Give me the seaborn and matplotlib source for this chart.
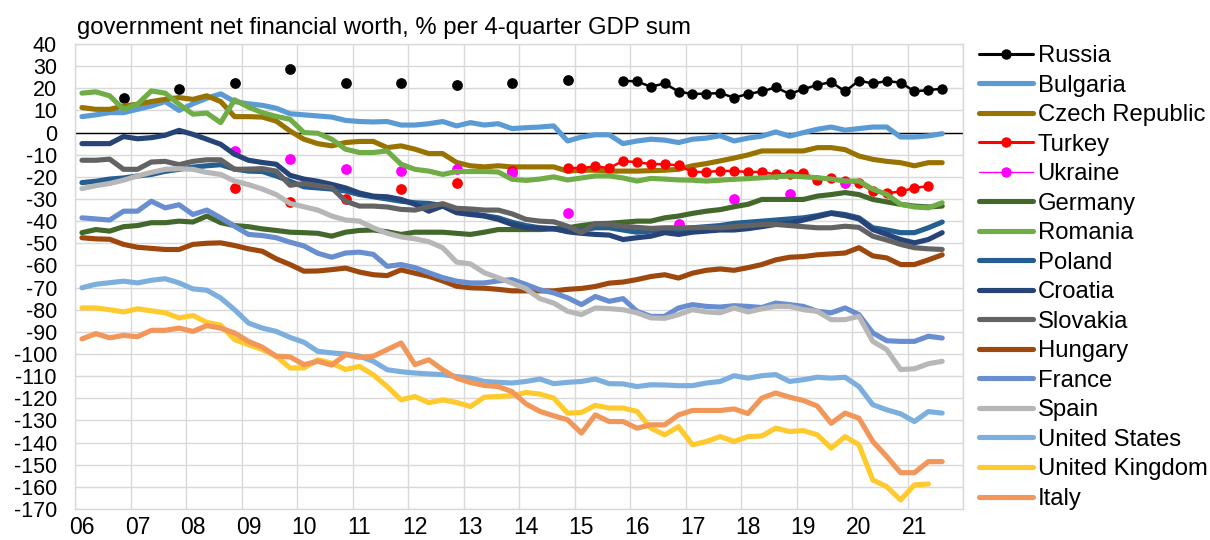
import numpy as np
import pandas as pd
import matplotlib
matplotlib.use("Agg")
import matplotlib.pyplot as plt
from matplotlib.lines import Line2D
import seaborn as sns

# quarterly axis 2006Q1 .. 2021Q3
quarters = pd.period_range("2006Q1", "2021Q3", freq="Q")
year_labels = ["06", "07", "08", "09", "10", "11", "12", "13", "14", "15",
               "16", "17", "18", "19", "20", "21"]

# annual (Q4) observations
russia_annual_q = ["2006Q4", "2007Q4", "2008Q4", "2009Q4", "2010Q4", "2011Q4",
                   "2012Q4", "2013Q4", "2014Q4"]
russia_annual = [15.4, 19.5, 22.6, 28.5, 22.2, 22.2, 21.4, 22.2, 23.7]
russia_q_start = "2015Q4"
russia_quarterly = [23.4, 23.1, 20.7, 22.2, 18.5, 17.4, 17.6, 17.8, 15.8, 17.4,
                    18.6, 20.4, 17.5, 19.6, 21.5, 22.8, 18.6, 23.4, 22.2, 23.2,
                    22.6, 18.6, 19.2, 19.8]

turkey_annual_q = ["2008Q4", "2009Q4", "2010Q4", "2011Q4", "2012Q4", "2013Q4"]
turkey_annual = [-25.2, -31.5, -30.2, -25.6, -23.0, -17.4]
turkey_q_start = "2014Q4"
turkey_quarterly = [-16.0, -16.0, -15.3, -16.0, -12.8, -13.4, -14.2, -14.3, -14.8, -17.8,
                    -17.8, -17.3, -17.4, -17.8, -17.8, -18.9, -18.5, -18.2, -21.2, -20.4,
                    -21.9, -22.9, -26.4, -27.4, -26.6, -25.0, -24.2]

ukraine_annual_q = ["2008Q4", "2009Q4", "2010Q4", "2011Q4", "2012Q4", "2013Q4",
                    "2014Q4", "2016Q4", "2017Q4", "2018Q4", "2019Q4"]
ukraine_annual = [-8.3, -12.1, -16.6, -17.4, -16.3, -18.1, -36.2, -41.5, -30.2, -27.8, -22.6]

bulgaria = [7.2, 8, 9, 9, 10.5, 12, 14, 10, 13, 15.5,
            17.5, 14, 13, 12.3, 11, 8.5, 8, 7.5, 7, 5.5,
            5, 4.8, 5, 3.4, 3.4, 4, 5, 3, 4.5, 3.4,
            4, 1.8, 2.2, 2.5, 3, -3.8, -2, -1, -1, -5,
            -3.8, -3, -3.4, -4.5, -3, -2.5, -1.4, -3.8, -2.5, -1.6,
            0.3, -1.6, 0, 1.5, 2.5, 1.1, 1.8, 2.5, 2.5, -2,
            -2, -1.5, -0.5]
czech = [11.3, 10.5, 10.5, 12, 12.8, 14, 15, 15.8, 15, 16.6,
         14, 7.2, 7.2, 7, 5.2, 0.7, -3, -5, -6, -4.5,
         -4, -4, -6.8, -6, -7.5, -9.5, -9.5, -13.5, -15, -15.5,
         -15, -15.5, -15.5, -15.5, -15.5, -17.4, -17, -17, -17.4, -17.4,
         -17.4, -17.2, -17, -16.6, -15, -14, -12.8, -11.5, -10.1, -8.3,
         -8.3, -8.3, -8.3, -6.8, -6.8, -7.7, -10.6, -12.1, -13, -13.6,
         -15, -13.6, -13.6]
germany = [-45.2, -43.8, -44.5, -42.5, -42, -40.7, -40.7, -40, -40.4, -37.7,
           -40.7, -42, -42.5, -43.5, -44.2, -45, -45.2, -45.5, -46.8, -45,
           -44.2, -44, -44.8, -46, -45, -45, -45, -45.5, -46, -45,
           -43.8, -43.8, -43.8, -43.8, -43.5, -43, -42, -41.2, -41, -40.5,
           -40, -40, -38.5, -37.7, -36.5, -35.5, -34.8, -33.5, -32.4, -30.2,
           -30.2, -30.2, -30.2, -28.7, -28, -27.1, -28, -30.2, -31.3, -32.4,
           -33.2, -33.6, -33.2]
romania = [17.8, 18.4, 16.6, 10.5, 12.8, 18.8, 17.8, 12.8, 8.3, 8.8,
           4.5, 14.8, 11.5, 9, 7.3, 6, 0, -0.3, -3, -7.5,
           -9, -9, -8.3, -14.3, -16.6, -17.4, -18.9, -17.6, -17.6, -17.6,
           -17.8, -21.1, -21.6, -21, -20, -21.4, -20.5, -19.6, -19.6, -20.5,
           -21.9, -20.7, -21, -21.4, -21.5, -21.9, -21.5, -21.1, -20.8, -20.4,
           -20, -19.6, -20, -20.4, -21, -21.9, -21.9, -25.6, -27.9, -32.4,
           -33.6, -34, -31.7]
poland = [-22.6, -22, -21, -20.5, -19.6, -18.9, -17.5, -16.6, -15.6, -15,
          -14.5, -16.5, -17.4, -17.6, -19.6, -22, -24.5, -25, -25.5, -26.4,
          -28, -29, -30, -31, -31.7, -32, -33, -35.5, -36.5, -37.5,
          -38.5, -40.5, -42, -43, -43.5, -44.5, -44, -43, -43, -44,
          -45, -44.5, -44, -44, -43, -42.5, -42, -41, -40.5, -40,
          -39.5, -39, -38.5, -37.5, -36.2, -37, -38.5, -43, -44, -45.2,
          -45.2, -43, -40.4]
croatia = [-5, -5, -5, -1.8, -2.8, -2.3, -1.2, 1, -0.8, -3,
           -5.3, -9.8, -12.5, -13.5, -14.3, -19.3, -21, -22, -23.4, -25,
           -27.3, -28.7, -29, -30.2, -32.4, -35.5, -33.2, -36.2, -37, -37.7,
           -39.2, -41.5, -43, -43.2, -43.3, -44.8, -45.5, -46, -46.3, -48.3,
           -47.5, -46.8, -45.2, -46, -45, -44.5, -44, -44, -43.4, -42.5,
           -41.5, -41, -39.5, -38, -36.5, -37.5, -39, -43.8, -46, -48.3,
           -49.8, -48.3, -45.2]
slovakia = [-12.5, -12.5, -12, -16.6, -16.6, -13.3, -13, -14.5, -13, -12.3,
            -12.3, -16.6, -16.5, -16.3, -17.4, -23.8, -23, -24, -24.9, -31,
            -33.2, -33.2, -33.6, -34.7, -35, -33.5, -32.1, -34.2, -34.5, -35,
            -35, -36.7, -39.2, -40, -40.3, -42.3, -45.2, -41.2, -41.5, -42.3,
            -42.8, -43.3, -43, -43, -43, -42.8, -43, -42.5, -42, -41.5,
            -41.5, -42, -42.5, -43, -43, -42.3, -42.8, -46.8, -48.5, -50.5,
            -52, -52.5, -52.8]
hungary = [-47.5, -48, -48.2, -50.5, -51.8, -52.3, -52.8, -52.8, -50.5, -50,
           -49.8, -51, -52.5, -53.6, -57, -59.6, -62.6, -62.5, -61.9, -61.2,
           -63, -64.2, -64.6, -62, -63.5, -64.9, -67, -69.4, -70.1, -70.3,
           -70.8, -71.5, -71.5, -71.5, -71.5, -70.8, -70.4, -69.5, -68, -67.5,
           -66.4, -65, -64.2, -65.7, -63.5, -62.2, -61.6, -62.2, -61, -59.6,
           -57.5, -56.3, -56, -55.2, -54.8, -54.4, -52, -55.7, -56.6, -59.6,
           -59.6, -57.5, -55.2]
france = [-38.5, -39, -39.5, -35.5, -35.5, -31, -34, -32.6, -37, -35,
          -38.5, -42.3, -46, -46.5, -47.5, -49.5, -51.2, -54.5, -56.3, -54.4,
          -54, -55, -60.4, -59.6, -61, -63.3, -65.5, -67.1, -67.9, -67.9,
          -67, -66.4, -68.6, -71, -72.4, -74.6, -77.7, -74, -76.2, -75,
          -80.7, -83, -83, -79.2, -77.7, -78.5, -78.8, -78.2, -78.5, -79,
          -77, -77.7, -78.5, -80.7, -81.4, -79.2, -82.2, -90.5, -94, -94.3,
          -94.3, -92, -92.8]
spain = [-25.3, -24, -23, -21.5, -19.6, -18, -16.6, -16.3, -16.6, -18,
         -18.9, -21.9, -23.5, -25.5, -28, -32, -33.5, -35, -37.7, -39.5,
         -40, -43, -45.5, -47.1, -48, -49.3, -52, -58.5, -59.3, -63.3,
         -65.6, -68, -70.5, -75, -77, -80.7, -82.2, -79.2, -79.5, -80,
         -81.4, -83.7, -83.9, -82.2, -80, -81, -81.4, -79.2, -81, -79.6,
         -78.5, -78.5, -80, -80.7, -84.5, -84.5, -83, -94.3, -98, -107,
         -106.7, -104.4, -103.3]
united_states = [-70.1, -68.5, -67.8, -67.1, -67.9, -66.7, -66, -67.9, -70.6, -71.2,
                 -74.7, -80, -86, -88.3, -89.8, -92.5, -94.7, -98.8, -99.5, -100,
                 -101, -103.3, -107.1, -108, -108.6, -109, -109.3, -110.2, -110.9, -112.4,
                 -112.8, -113.1, -112.4, -111.3, -113.4, -112.8, -112.4, -111.3, -113.4, -113.5,
                 -114.7, -113.9, -114, -114.3, -114.3, -113.1, -112.4, -109.8, -110.9, -109.8,
                 -109.3, -112.4, -111.6, -110.5, -110.9, -110.5, -114.7, -122.9, -125.2, -127,
                 -130.5, -126, -126.7]
united_kingdom = [-79.2, -79.2, -80, -81, -79.6, -80.5, -81.4, -83.7, -82.6, -85.7,
                  -87, -93.5, -95.8, -98, -101, -106.3, -106.3, -102.6, -104.1, -107,
                  -105.6, -109.4, -114.7, -120.7, -119.2, -122, -120.7, -121.9, -123.7, -119.5,
                  -119.2, -118.8, -117.4, -118.1, -119.9, -126.7, -126.4, -123.2, -124.4, -124.4,
                  -125.9, -133.5, -136.5, -132.8, -141, -139.5, -137.3, -139.5, -137.3, -137,
                  -133.5, -135, -134.6, -136.5, -142.5, -137.3, -141, -156.9, -159.9, -165.9,
                  -159.1, -158.7, np.nan]
italy = [-93.2, -90.8, -92.7, -91.6, -92.2, -89.3, -89.3, -88.3, -89.8, -87.2,
         -88.3, -90.5, -94.3, -96.9, -101, -101.3, -104.8, -103.3, -105, -100.3,
         -101.5, -101, -98, -95, -104.8, -102.6, -107.1, -110.9, -112.9, -114.2,
         -114.7, -117, -122.5, -125.9, -127.9, -129.7, -135.7, -127.5, -130.5, -130.5,
         -133.5, -132, -132, -127.5, -125.5, -125.5, -125.5, -124.8, -126.9, -119.9,
         -117.6, -119.5, -121, -123.5, -131.3, -126.7, -129, -139.5, -146.3, -153.6,
         -153.6, -148.6, -148.6]

line_series = [
    ("Bulgaria", bulgaria, "#5B9BD5"),
    ("Czech Republic", czech, "#997300"),
    ("Germany", germany, "#43682B"),
    ("Romania", romania, "#70AD47"),
    ("Poland", poland, "#255E91"),
    ("Croatia", croatia, "#264478"),
    ("Slovakia", slovakia, "#636363"),
    ("Hungary", hungary, "#9E480E"),
    ("France", france, "#698ED0"),
    ("Spain", spain, "#B7B7B7"),
    ("United States", united_states, "#7CAFDD"),
    ("United Kingdom", united_kingdom, "#FFCA2E"),
    ("Italy", italy, "#F1975A"),
]


def qpos(q):
    p = pd.Period(q, freq="Q")
    return p.year + (p.quarter - 0.5) / 4


qx = np.array([p.year + (p.quarter - 0.5) / 4 for p in quarters])

sns.set_style("white")
plt.rcParams["font.family"] = ["Liberation Sans", "DejaVu Sans"]
plt.rcParams["axes.unicode_minus"] = False
plt.rcParams["text.color"] = "black"
plt.rcParams["xtick.color"] = "black"
plt.rcParams["ytick.color"] = "black"

fig = plt.figure(figsize=(12.1, 5.4), dpi=100)
ax = fig.add_axes([75 / 1210, 1 - 509 / 540, (963 - 75) / 1210, (509 - 44) / 540])

LW = 3.7
# dot series drawn first
sns.scatterplot(x=[qpos(q) for q in russia_annual_q], y=russia_annual, color="black",
                s=60, linewidth=0, ax=ax, zorder=3)
i0 = quarters.get_loc(pd.Period(russia_q_start, freq="Q"))
sns.lineplot(x=qx[i0:i0 + len(russia_quarterly)], y=russia_quarterly, color="black",
             linewidth=1.8, marker="o", markersize=7.5, markeredgewidth=0, ax=ax, zorder=3)

for name, vals, col in line_series[:2]:
    sns.lineplot(x=qx, y=vals, color=col, linewidth=LW, ax=ax, zorder=3)

sns.scatterplot(x=[qpos(q) for q in turkey_annual_q], y=turkey_annual, color="#FF0000",
                s=60, linewidth=0, ax=ax, zorder=3)
i0 = quarters.get_loc(pd.Period(turkey_q_start, freq="Q"))
sns.lineplot(x=qx[i0:i0 + len(turkey_quarterly)], y=turkey_quarterly, color="#FF0000",
             linewidth=1.8, marker="o", markersize=7.5, markeredgewidth=0, ax=ax, zorder=3)
sns.scatterplot(x=[qpos(q) for q in ukraine_annual_q], y=ukraine_annual, color="#FF00FF",
                s=60, linewidth=0, ax=ax, zorder=3)

for name, vals, col in line_series[2:]:
    sns.lineplot(x=qx, y=vals, color=col, linewidth=LW, ax=ax, zorder=3)

ax.axhline(0, color="black", linewidth=1.0, zorder=2)

ax.set_xlim(2006, 2022)
ax.set_ylim(-170, 40)
years = np.arange(2006, 2023)
ax.set_xticks(years)
ax.set_xticklabels([])
ax.set_xticks(years[:-1] + 0.125, labels=year_labels, minor=True)
yt = np.arange(-170, 41, 10)
ax.set_yticks(yt, labels=[str(v) for v in yt])
ax.grid(True, which="major", color="#D9D9D9", linewidth=1.0)
ax.tick_params(which="both", length=0)
ax.tick_params(axis="y", labelsize=15.5, pad=13)
ax.tick_params(axis="x", which="minor", labelsize=16.5, pad=5)
for sp in ax.spines.values():
    sp.set_color("#D9D9D9")
    sp.set_linewidth(1.0)
ax.set_xlabel("")
ax.set_ylabel("")

fig.text(77 / 1210, 1 - 34 / 540, "government net financial worth, % per 4-quarter GDP sum",
         ha="left", va="baseline", fontsize=17.2)

# legend in the original order
handles = [
    Line2D([], [], color="black", lw=2.2, marker="o", markersize=7.5, markeredgewidth=0),
    Line2D([], [], color="#5B9BD5", lw=LW, solid_capstyle="round"),
    Line2D([], [], color="#997300", lw=LW, solid_capstyle="round"),
    Line2D([], [], color="#FF0000", lw=2.2, marker="o", markersize=7.5, markeredgewidth=0),
    Line2D([], [], color="#FF00FF", lw=1.0, marker="o", markersize=7.5, markeredgewidth=0),
]
labels = ["Russia", "Bulgaria", "Czech Republic", "Turkey", "Ukraine"]
order = ["Germany", "Romania", "Poland", "Croatia", "Slovakia", "Hungary", "France",
         "Spain", "United States", "United Kingdom", "Italy"]
cols = {n: c for n, _, c in line_series}
for n in order:
    handles.append(Line2D([], [], color=cols[n], lw=LW, solid_capstyle="round"))
    labels.append(n)

fig.legend(handles, labels, loc="upper left", bbox_to_anchor=(979 / 1210, 1 - 45 / 540),
           frameon=False, fontsize=17.2, handlelength=2.25, handletextpad=0.2,
           labelspacing=0.315, borderaxespad=0, borderpad=0)

fig.savefig("out.png", dpi=100)
